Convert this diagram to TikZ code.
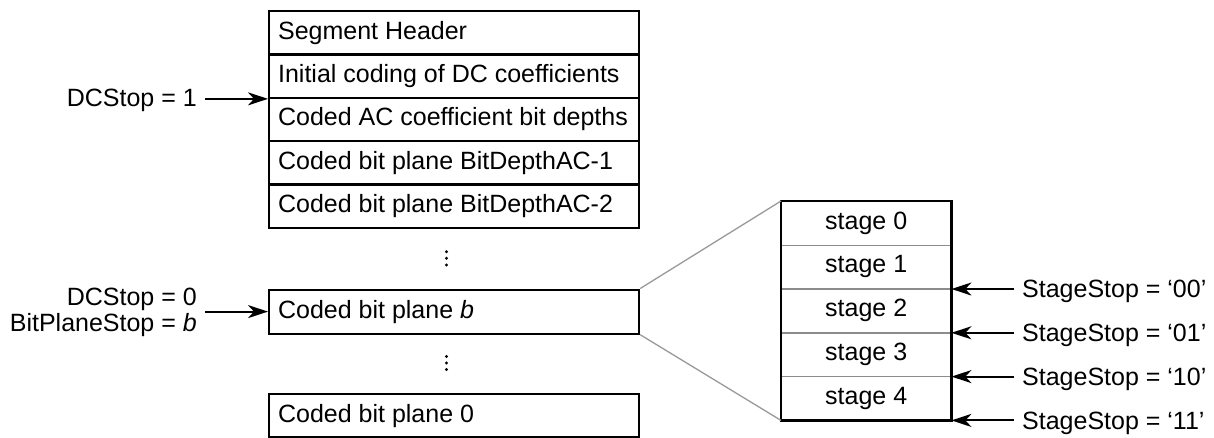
\documentclass[tikz,border=0pt]{standalone}
\usepackage{fontspec}
\setmainfont{Liberation Sans}
\usetikzlibrary{arrows.meta}
\newcommand{\rowtxt}[1]{\makebox[352pt][l]{#1}}
\begin{document}
\begin{tikzpicture}[x=1pt,y=-1pt,
  every node/.style={font=\fontsize{25}{26}\selectfont},
  rowbox/.style={draw, line width=2.2pt, minimum height=43.33pt,
    inner xsep=9pt, inner ysep=0pt, anchor=north west},
  stagebox/.style={minimum width=170pt, minimum height=43.8pt, inner sep=0pt, anchor=north west},
  sep/.style={draw=black!45, line width=1.4pt},
  frame/.style={line width=2.2pt},
  diag/.style={draw=black!40, line width=1.3pt},
  arr/.style={line width=2pt, -{Stealth[length=20pt,width=13pt,inset=6pt]}},
  lbl/.style={inner xsep=8pt, inner ysep=0pt},
  dot/.style={fill=black}
]
\useasboundingbox (0,0) rectangle (1214,437);

% left stack
\node[rowbox] (r0) at (268,10) {\rowtxt{Segment Header}};
\node[rowbox] (r1) at (268,53.33) {\rowtxt{Initial coding of DC coefficients}};
\node[rowbox] (r2) at (268,96.67) {\rowtxt{Coded AC coefficient bit depths}};
\node[rowbox] (r3) at (268,140) {\rowtxt{Coded bit plane BitDepthAC-1}};
\node[rowbox] (r4) at (268,183.33) {\rowtxt{Coded bit plane BitDepthAC-2}};
\node[rowbox, minimum height=44pt] (bb) at (268,288.5) {\rowtxt{Coded bit plane \textit{b}}};
\node[rowbox, minimum height=43pt] (b0) at (268,393) {\rowtxt{Coded bit plane 0}};

% vertical dots
\foreach \yy in {251.7,258.3,265} \fill[dot] (446.5,\yy) circle (1.6pt);
\foreach \yy in {356.5,363,369.5} \fill[dot] (446.5,\yy) circle (1.6pt);

% stage column
\node[stagebox] (s0) at (781,201) {stage 0};
\node[stagebox] (s1) at (781,244.8) {stage 1};
\node[stagebox] (s2) at (781,288.6) {stage 2};
\node[stagebox] (s3) at (781,332.4) {stage 3};
\node[stagebox] (s4) at (781,376.2) {stage 4};
\draw[sep] (s0.south west) -- (s0.south east);
\draw[sep] (s1.south west) -- (s1.south east);
\draw[sep] (s2.south west) -- (s2.south east);
\draw[sep] (s3.south west) -- (s3.south east);
\draw[frame] (s0.north west) rectangle (s4.south east);

% zoom lines
\draw[diag] (bb.north east) -- (s0.north west);
\draw[diag] (bb.south east) -- (s4.south west);

% left labels
\node[lbl, anchor=base east] (d1) at (205,106) {DCStop = 1};
\draw[arr] (d1.east |- r1.south west) -- (r1.south west);
\node[lbl, anchor=east, align=right] (d0) at (205,312.5) {DCStop = 0\\BitPlaneStop = \textit{b}};
\draw[arr] (d0.east |- bb.west) -- (bb.west);

% right labels
\node[lbl, anchor=base west] (t0) at (1014,297.6) {StageStop = ‘00’};
\node[lbl, anchor=base west] (t1) at (1014,341.4) {StageStop = ‘01’};
\node[lbl, anchor=base west] (t2) at (1014,385.2) {StageStop = ‘10’};
\node[lbl, anchor=base west] (t3) at (1014,429) {StageStop = ‘11’};
\draw[arr] (t0.west |- s1.south east) -- (s1.south east);
\draw[arr] (t1.west |- s2.south east) -- (s2.south east);
\draw[arr] (t2.west |- s3.south east) -- (s3.south east);
\draw[arr] (t3.west |- s4.south east) -- (s4.south east);
\end{tikzpicture}
\end{document}
